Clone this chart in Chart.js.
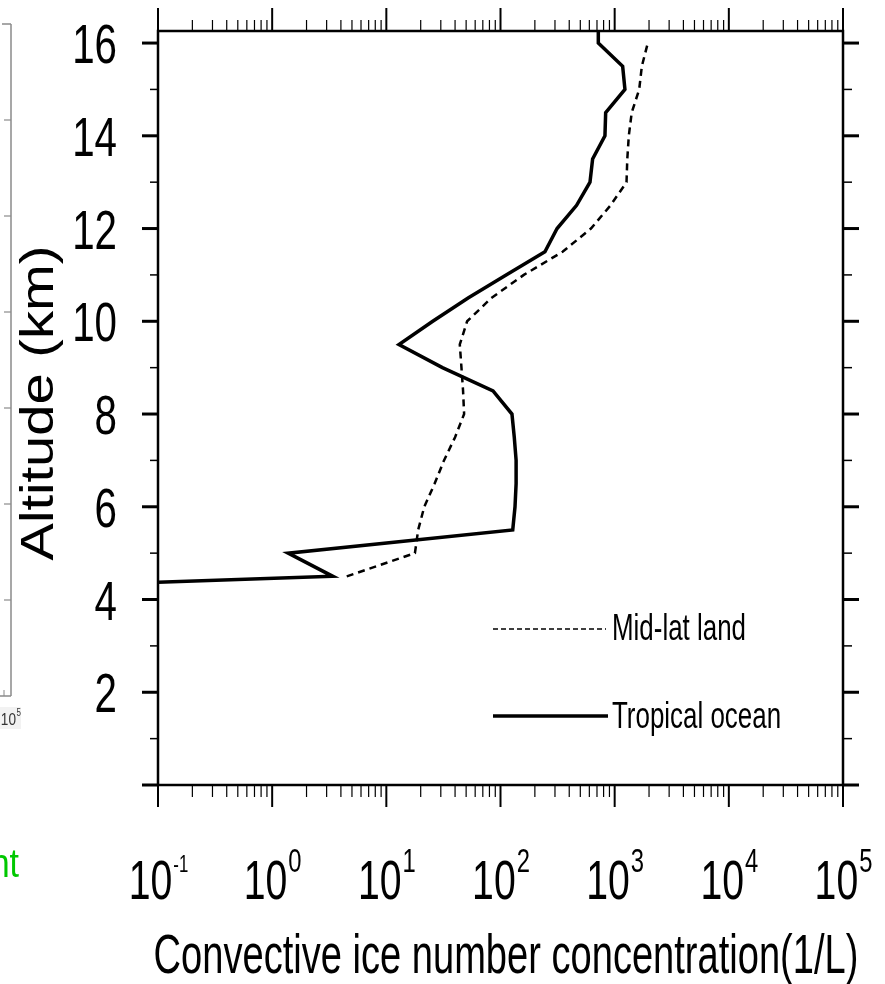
<!DOCTYPE html>
<html>
<head>
<meta charset="utf-8">
<script src="https://cdn.jsdelivr.net/npm/chart.js@4.4.1/dist/chart.umd.min.js"></script>
<style>
  html, body { margin: 0; padding: 0; background: #fff; }
  #wrap { width: 885px; height: 984px; }
</style>
</head>
<body>
<div id="wrap"><canvas id="chart" width="885" height="984"></canvas></div>
<script>
// altitude (km) and convective ice number concentration (1/L)
const tropicalAltitude = [4.0, 4.5, 5.0, 5.5, 6.0, 6.5, 7.0, 7.5, 8.0, 8.5, 9.0, 9.5, 10.0, 10.5, 11.0, 11.5, 12.0, 12.5, 13.0, 13.5, 14.0, 14.5, 15.0, 15.5, 16.0, 16.5];
const tropicalOcean = [0.0000035, 3.4, 1.38, 128, 134, 137, 137, 132, 126, 86, 31, 12.9, 25.5, 52, 112, 245, 313, 464, 608, 641, 822, 834, 1230, 1175, 719, 719];

const midlatAltitude = [4.5, 5.0, 5.5, 6.0, 6.5, 7.0, 7.5, 8.0, 8.5, 9.0, 9.5, 10.0, 10.5, 11.0, 11.5, 12.0, 12.5, 13.0, 13.5, 14.0, 14.5, 15.0, 15.5, 16.0];
const midlatLand = [4.5, 17.8, 19, 21.5, 26.5, 32, 40, 48, 47, 45.5, 44, 51, 83, 160, 350, 620, 920, 1270, 1290, 1330, 1410, 1640, 1730, 1950];

const xTickExponents = [-1, 0, 1, 2, 3, 4, 5];
const yTickLabels = [2, 4, 6, 8, 10, 12, 14, 16];

const seriesNames = ['Mid-lat land', 'Tropical ocean'];
const xTitle = 'Convective ice number concentration(1/L)';
const yTitle = 'Altitude (km)';

const FONT = '"Liberation Sans", Arial, Helvetica, sans-serif';

function drawText(ctx, text, x, y, size, sx, align, color) {
  ctx.save();
  ctx.translate(x, y);
  ctx.scale(sx, 1);
  ctx.font = size + 'px ' + FONT;
  ctx.textAlign = align || 'left';
  ctx.textBaseline = 'alphabetic';
  ctx.fillStyle = color || '#000';
  ctx.fillText(text, 0, 0);
  ctx.restore();
}

function textWidth(ctx, text, size, sx) {
  ctx.save();
  ctx.font = size + 'px ' + FONT;
  const w = ctx.measureText(text).width * sx;
  ctx.restore();
  return w;
}

function line(ctx, x1, y1, x2, y2, w, color) {
  ctx.beginPath();
  ctx.lineWidth = w;
  ctx.strokeStyle = color || '#000';
  ctx.moveTo(x1, y1);
  ctx.lineTo(x2, y2);
  ctx.stroke();
}

// frame, outward ticks, labels, legend (NCL style)
const nclAxes = {
  id: 'nclAxes',
  afterDraw(chart) {
    const ctx = chart.ctx;
    const a = chart.chartArea;
    const xs = chart.scales.x;
    const ys = chart.scales.y;
    ctx.save();
    ctx.lineCap = 'butt';

    // piece of the neighbouring panel on the left edge
    line(ctx, 11, 24, 11, 696, 1.5, '#8a8a8a');
    line(ctx, 2, 24, 11, 24, 1.5, '#8a8a8a');
    line(ctx, 0, 696, 11, 696, 1.5, '#8a8a8a');
    for (let k = 1; k < 7; k++) line(ctx, 4, 24 + 96 * k, 11, 24 + 96 * k, 1.2, '#8a8a8a');
    line(ctx, 4, 690, 4, 696, 1, '#8a8a8a');
    ctx.fillStyle = '#f2f2f2';
    ctx.fillRect(0, 707, 21, 22);
    drawText(ctx, '10', 16, 725, 17, 0.8, 'right', '#333');
    drawText(ctx, '5', 16.5, 716, 10, 0.8, 'left', '#333');
    drawText(ctx, 'nt', 19, 877, 40, 0.85, 'right', '#00c800');

    // x ticks (log decades + minor)
    xTickExponents.forEach((e, i) => {
      const px = xs.getPixelForValue(Math.pow(10, e));
      line(ctx, px, a.top, px, a.top - 23, 2);
      line(ctx, px, a.bottom, px, a.bottom + 22, 2);
      if (i < xTickExponents.length - 1) {
        for (let m = 2; m <= 9; m++) {
          const pm = xs.getPixelForValue(m * Math.pow(10, e));
          line(ctx, pm, a.top, pm, a.top - 11, 1.2);
          line(ctx, pm, a.bottom, pm, a.bottom + 12, 1.2);
        }
      }
      // label 10^e
      const base = '10';
      const sup = String(e);
      const supSize = e < 0 ? 24 : 34;
      const wb = textWidth(ctx, base, 56, 0.7);
      const wsup = textWidth(ctx, sup, supSize, 0.7);
      const x0 = px - (wb + wsup) / 2;
      drawText(ctx, base, x0, 899, 56, 0.7, 'left');
      drawText(ctx, sup, x0 + wb + 1, 872, supSize, 0.7, 'left');
    });

    // y ticks: major every 2 km, minor every 1 km
    for (let v = 0; v <= 16; v++) {
      const py = ys.getPixelForValue(v);
      const major = v % 2 === 0;
      line(ctx, a.left, py, a.left - (major ? 16 : 8), py, major ? 3 : 1.5);
      line(ctx, a.right, py, a.right + (major ? 16 : 9), py, major ? 3 : 1.5);
    }
    yTickLabels.forEach(v => {
      const py = ys.getPixelForValue(v);
      drawText(ctx, String(v), 117, py + 20, 56, 0.72, 'right');
    });

    // frame
    ctx.lineWidth = 2.5;
    ctx.strokeStyle = '#000';
    ctx.strokeRect(a.left, a.top, a.right - a.left, a.bottom - a.top);

    // axis titles
    drawText(ctx, xTitle, 506, 973, 56, 0.68, 'center');
    ctx.save();
    ctx.translate(53, 403);
    ctx.rotate(-Math.PI / 2);
    drawText(ctx, yTitle, 0, 0, 46, 1.22, 'center');
    ctx.restore();

    // legend
    ctx.save();
    ctx.setLineDash([5, 3]);
    line(ctx, 493, 629, 606, 629, 1.7);
    ctx.restore();
    line(ctx, 493, 716, 608, 716, 3.5);
    drawText(ctx, seriesNames[0], 612, 640, 36, 0.72, 'left');
    drawText(ctx, seriesNames[1], 612, 728, 36, 0.72, 'left');

    ctx.restore();
  }
};

const toPoints = (alt, vals) => alt.map((y, i) => ({ x: vals[i], y: y }));

new Chart(document.getElementById('chart').getContext('2d'), {
  type: 'scatter',
  data: {
    datasets: [
      {
        label: seriesNames[0],
        data: toPoints(midlatAltitude, midlatLand),
        showLine: true,
        borderColor: '#000',
        borderWidth: 2.5,
        borderDash: [7, 5],
        pointRadius: 0,
        tension: 0,
        clip: 0
      },
      {
        label: seriesNames[1],
        data: toPoints(tropicalAltitude, tropicalOcean),
        showLine: true,
        borderColor: '#000',
        borderWidth: 3.5,
        pointRadius: 0,
        tension: 0,
        clip: 0
      }
    ]
  },
  options: {
    responsive: false,
    animation: false,
    devicePixelRatio: 1,
    layout: { padding: { left: 158, top: 31, right: 42, bottom: 199 } },
    plugins: {
      legend: { display: false },
      tooltip: { enabled: false }
    },
    scales: {
      x: { type: 'logarithmic', min: 0.1, max: 100000, display: false },
      y: { type: 'linear', min: 0, max: 16.26, display: false }
    }
  },
  plugins: [nclAxes]
});
</script>
</body>
</html>
